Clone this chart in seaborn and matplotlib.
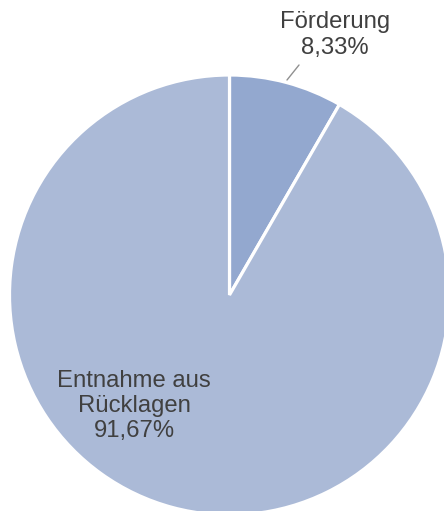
import matplotlib
matplotlib.use("Agg")
import matplotlib.pyplot as plt
import seaborn as sns

categories = ["Förderung", "Entnahme aus\nRücklagen"]
values = [8.33, 91.67]
pct_labels = ["8,33%", "91,67%"]
colors = ["#93A8CF", "#ABBAD7"]

sns.set_theme(style="white")
plt.rcParams['font.family'] = ['Liberation Sans', 'DejaVu Sans']

W, H = 444, 511
fig = plt.figure(figsize=(W / 100, H / 100), dpi=100)
ax = fig.add_axes([0, 0, 1, 1])
ax.set_axis_off()

R = 220.0
cx, cy = 229.5, 295.0  # pixel coords from top


def px(x, y):
    return ((x - cx) / R, (cy - y) / R)


ax.pie(values, colors=colors, startangle=90, counterclock=False, radius=1.0,
       wedgeprops=dict(edgecolor="white", linewidth=2.3))
ax.set_xlim((0 - cx) / R, (W - cx) / R)
ax.set_ylim((cy - H) / R, (cy - 0) / R)
ax.set_aspect('auto')

tc = "#404040"
fs = 17.2
x, y = px(335, 35)
ax.text(x, y, f"{categories[0]}\n{pct_labels[0]}", ha="center", va="center",
        fontsize=fs, color=tc, linespacing=1.18)
x, y = px(134, 406)
ax.text(x, y, f"{categories[1]}\n{pct_labels[1]}", ha="center", va="center",
        fontsize=fs, color=tc, linespacing=1.18)
x1, y1 = px(287, 80)
x2, y2 = px(299, 65)
ax.plot([x1, x2], [y1, y2], color="#909090", lw=1.0)

fig.savefig("out.png", dpi=100, facecolor="white")
